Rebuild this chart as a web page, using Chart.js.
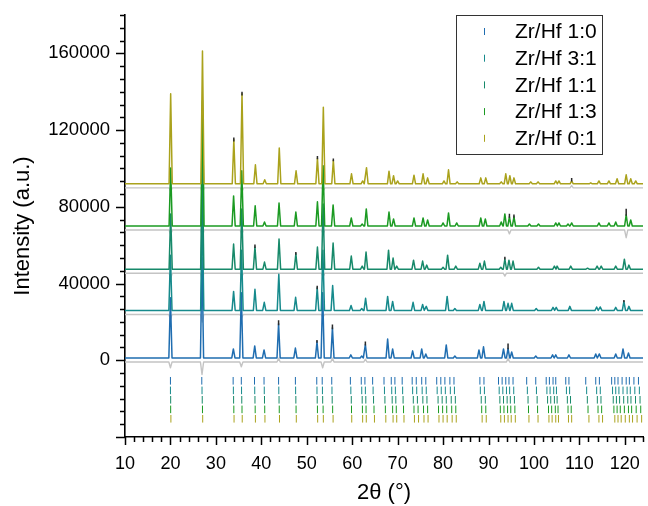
<!DOCTYPE html>
<html>
<head>
<meta charset="utf-8">
<script src="https://cdn.jsdelivr.net/npm/chart.js@4.4.1/dist/chart.umd.min.js"></script>
<style>
  body { margin: 0; background: #fff; }
  canvas { display: block; }
</style>
</head>
<body>
<canvas id="xrd" width="648" height="506"></canvas>
<script>
// series names and stacking offsets (a.u.)
const labels = ['Zr/Hf 1:0', 'Zr/Hf 3:1', 'Zr/Hf 1:1', 'Zr/Hf 1:3', 'Zr/Hf 0:1'];
const colors = ['#1f6db0', '#168a8c', '#17896a', '#1b9a22', '#aaa21c'];
const offsets = [1200, 26000, 47500, 70000, 92000];

// calculated peaks: [2theta, height above own baseline]
const peaks10 = [[20.0, 31400], [26.95, 52300], [33.85, 4700], [35.6, 34000], [38.55, 6300], [40.6, 4200], [43.8, 18000], [47.5, 5200], [52.25, 8400], [53.5, 34000], [55.65, 15800], [59.7, 1600], [62.1, 1000], [62.9, 7000], [67.8, 9900], [68.9, 4700], [73.3, 3700], [75.3, 4700], [76.2, 2100], [80.7, 6800], [82.6, 1000], [87.9, 4200], [88.9, 5800], [93.3, 4700], [94.3, 5000], [95.1, 3100], [100.4, 1000], [104.1, 1600], [104.8, 1600], [107.7, 1600], [113.6, 2100], [114.4, 2100], [118.0, 2100], [119.6, 4700], [120.8, 2600]];
const peaks31 = [[20.0, 28800], [27.0, 54900], [33.9, 9900], [35.65, 31400], [38.6, 11000], [40.65, 4200], [43.85, 18800], [47.55, 6800], [52.3, 11800], [53.55, 31400], [55.7, 13000], [59.75, 2600], [62.1, 1000], [62.95, 6300], [67.8, 7300], [68.9, 4700], [73.4, 4200], [75.5, 3100], [76.3, 2100], [80.9, 7300], [82.6, 1000], [88.1, 3100], [89.0, 4700], [93.4, 4700], [94.3, 3700], [95.1, 3700], [100.5, 1000], [104.2, 1600], [104.9, 1600], [107.9, 2100], [113.8, 1800], [114.6, 1800], [118.0, 1600], [119.8, 4700], [120.9, 2100]];
const peaks11 = [[20.05, 28800], [27.0, 57500], [33.9, 13100], [35.7, 31400], [38.6, 11600], [40.7, 3700], [43.9, 15700], [47.6, 8000], [52.35, 11500], [53.6, 34000], [55.8, 13600], [59.8, 6800], [62.2, 1600], [63.05, 8900], [68.0, 9900], [69.0, 5800], [69.8, 1600], [73.5, 4700], [75.5, 4200], [76.4, 2100], [80.0, 1000], [81.0, 7300], [82.8, 1600], [88.1, 3100], [89.1, 4200], [92.7, 1000], [93.6, 5300], [94.5, 4700], [95.4, 4200], [101.0, 1000], [104.5, 1600], [105.1, 1600], [108.1, 1600], [111.8, 500], [113.9, 1600], [114.8, 1600], [118.0, 1600], [119.9, 5200], [120.9, 2100]];
const peaks13 = [[20.05, 30300], [27.05, 65400], [33.9, 15700], [35.7, 28800], [38.65, 10500], [40.7, 2100], [43.9, 12000], [47.6, 7300], [52.35, 12600], [53.6, 31400], [55.8, 11000], [59.8, 4200], [62.2, 1000], [63.1, 8900], [68.1, 7300], [69.1, 3700], [73.6, 4200], [75.6, 4200], [76.6, 3100], [80.0, 1600], [81.2, 6800], [83.0, 1600], [88.3, 4200], [89.3, 3700], [92.8, 2100], [93.6, 6300], [94.6, 4800], [95.6, 4800], [99.0, 1000], [101.0, 1000], [104.8, 1600], [105.5, 1600], [107.5, 1000], [108.3, 1600], [114.3, 1600], [116.5, 1600], [118.0, 2100], [120.3, 5800], [121.3, 3100]];
const peaks01 = [[20.05, 46900], [27.05, 69200], [33.95, 22900], [35.75, 47000], [38.7, 9900], [40.75, 2100], [43.95, 18700], [47.65, 6800], [52.35, 13300], [53.65, 39900], [55.85, 12200], [59.85, 5200], [62.3, 1500], [63.15, 8400], [68.1, 6600], [69.1, 4200], [70.0, 1500], [73.6, 4500], [75.6, 5200], [76.6, 3100], [80.2, 1500], [81.2, 7300], [83.1, 1000], [88.3, 3100], [89.4, 3100], [92.8, 1000], [93.8, 5200], [94.7, 4200], [95.6, 3100], [99.3, 1000], [100.9, 1000], [104.8, 1500], [105.5, 1500], [108.3, 1500], [112.5, 500], [114.3, 1500], [116.5, 1500], [118.3, 2600], [120.3, 4700], [121.3, 2600], [122.4, 1500]];
const allPeaks = [peaks10, peaks31, peaks11, peaks13, peaks01];

// observed tops sticking out above the calculated line: [2theta, from, to]
const obs10 = [[43.8, 17000, 19600], [52.25, 8000, 9400], [55.65, 15000, 17500], [62.9, 6500, 8600], [94.3, 4500, 7600]];
const obs31 = [[52.3, 11000, 12800], [119.8, 4200, 5400]];
const obs11 = [[38.6, 11000, 12800], [47.6, 7500, 9000], [93.6, 5000, 6500]];
const obs13 = [[94.6, 4300, 6400], [95.6, 4300, 6000], [120.3, 5300, 9000]];
const obs01 = [[33.95, 22000, 24200], [35.75, 46000, 48000], [52.35, 12800, 14500], [55.85, 11700, 13200], [108.3, 1200, 3000]];
const allObs = [obs10, obs31, obs11, obs13, obs01];

// difference curves: level below each pattern and spikes [2theta, value]
const diffGap = 2100;
const diff10 = [[20.0, -3000], [26.95, -6500], [35.6, -2500], [43.8, 2000], [53.5, -3000], [55.65, 2000], [62.9, 1500], [94.3, 2000]];
const diff31 = [[20.0, -2500], [27.0, -4000], [35.65, -2000], [53.55, -1500]];
const diff11 = [[20.05, -2500], [27.0, -4000], [35.7, -2000], [53.6, -2000], [93.6, -1500]];
const diff13 = [[20.05, -2500], [27.05, -3500], [35.7, -2500], [53.6, -2000], [94.6, -2000], [120.3, -4000]];
const diff01 = [[20.05, -2000], [27.05, -3000], [35.75, -2000], [53.65, -1500], [108.3, 1200]];
const allDiffs = [diff10, diff31, diff11, diff13, diff01];

// Bragg reflection positions, one row per phase
const bragg10 = [20.0, 26.9, 33.8, 35.6, 38.5, 40.6, 43.8, 47.5, 52.2, 53.4, 55.5, 59.6, 62.0, 62.8, 64.5, 67.0, 68.6, 69.4, 71.0, 73.2, 74.1, 75.3, 76.2, 78.6, 79.5, 80.4, 81.5, 82.4, 88.1, 89.0, 92.2, 93.0, 93.8, 94.5, 95.4, 98.4, 100.4, 102.7, 103.4, 104.2, 104.8, 107.0, 107.7, 111.4, 113.6, 114.4, 117.1, 117.8, 118.5, 119.4, 120.3, 121.0, 122.0, 123.0];
const bragg31 = [20.0, 26.95, 33.85, 35.65, 38.55, 40.65, 43.85, 47.55, 52.25, 53.45, 55.55, 59.7, 62.1, 62.9, 64.6, 67.1, 68.7, 69.5, 71.1, 73.3, 74.2, 75.4, 76.3, 78.7, 79.6, 80.5, 81.6, 82.5, 88.2, 89.1, 92.35, 93.15, 93.95, 94.65, 95.55, 98.55, 100.55, 102.85, 103.55, 104.35, 104.95, 107.15, 107.85, 111.6, 113.8, 114.6, 117.3, 118.0, 118.7, 119.6, 120.5, 121.2, 122.2, 123.2];
const bragg11 = [20.05, 27.0, 33.9, 35.7, 38.6, 40.7, 43.9, 47.6, 52.3, 53.5, 55.6, 59.8, 62.2, 63.0, 64.7, 67.2, 68.8, 69.6, 71.2, 73.45, 74.35, 75.55, 76.45, 78.9, 79.8, 80.7, 81.8, 82.7, 88.4, 89.3, 92.5, 93.3, 94.1, 94.8, 95.7, 98.7, 100.7, 103.0, 103.7, 104.5, 105.1, 107.35, 108.05, 111.75, 113.95, 114.75, 117.45, 118.15, 118.85, 119.75, 120.65, 121.35, 122.35, 123.35];
const bragg13 = [20.05, 27.05, 33.95, 35.75, 38.65, 40.75, 43.95, 47.65, 52.35, 53.6, 55.7, 59.85, 62.25, 63.05, 64.8, 67.3, 68.9, 69.7, 71.3, 73.6, 74.5, 75.7, 76.6, 79.0, 79.9, 80.8, 81.9, 82.8, 88.5, 89.4, 92.6, 93.4, 94.2, 94.9, 95.8, 98.8, 100.8, 103.2, 103.9, 104.7, 105.3, 107.5, 108.2, 111.9, 114.1, 114.9, 117.6, 118.3, 119.0, 119.9, 120.8, 121.5, 122.5, 123.5];
const bragg01 = [20.1, 27.1, 34.0, 35.8, 38.7, 40.8, 44.0, 47.7, 52.4, 53.65, 55.8, 59.9, 62.3, 63.1, 64.9, 67.4, 69.0, 69.8, 71.4, 73.7, 74.6, 75.8, 76.7, 79.1, 80.0, 80.9, 82.0, 82.9, 88.6, 89.5, 92.7, 93.5, 94.3, 95.0, 95.9, 98.9, 100.9, 103.3, 104.0, 104.8, 105.4, 107.6, 108.3, 112.1, 114.3, 115.1, 117.8, 118.5, 119.2, 120.1, 121.0, 121.7, 122.7, 123.7];
const allBragg = [bragg10, bragg31, bragg11, bragg13, bragg01];
const braggRows = [-10700, -15700, -20600, -25600, -30500];

const yTickLabels = [0, 40000, 80000, 120000, 160000];
const xTickLabels = [10, 20, 30, 40, 50, 60, 70, 80, 90, 100, 110, 120];

const halfWidth = 0.35;

function profile(base, list) {
  const pts = [{ x: 10, y: base }];
  list.forEach(([t, h]) => {
    pts.push({ x: t - halfWidth, y: base }, { x: t, y: base + h }, { x: t + halfWidth, y: base });
  });
  pts.push({ x: 124, y: base });
  return pts;
}

function tips(base, list) {
  const pts = [];
  list.forEach(([t, lo, hi]) => {
    pts.push({ x: t, y: base + lo }, { x: t, y: base + hi }, { x: t, y: null });
  });
  return pts;
}

const datasets = [];
labels.forEach((name, i) => {
  datasets.push({
    type: 'line',
    label: name,
    data: profile(offsets[i], allPeaks[i]),
    borderColor: colors[i],
    borderWidth: 1.5,
    borderJoinStyle: 'round',
    pointRadius: 0,
    tension: 0,
    order: 10 - i
  });
  datasets.push({
    type: 'line',
    label: name + ' obs',
    data: tips(offsets[i], allObs[i]),
    borderColor: '#2a2a2a',
    borderWidth: 1.5,
    pointRadius: 0,
    spanGaps: false,
    tension: 0,
    order: 9.9 - i
  });
  datasets.push({
    type: 'line',
    label: name + ' diff',
    data: profile(offsets[i] - diffGap, allDiffs[i]),
    borderColor: '#c4c4c4',
    borderWidth: 1.4,
    borderJoinStyle: 'round',
    pointRadius: 0,
    tension: 0,
    order: 20 - i
  });
  datasets.push({
    type: 'scatter',
    label: name + ' hkl',
    data: allBragg[i].map(t => ({ x: t, y: braggRows[i] })),
    showLine: false,
    pointStyle: 'line',
    rotation: 90,
    pointRadius: 3.8,
    borderWidth: 1,
    borderColor: colors[i],
    order: 30
  });
});

const FONT = '"Liberation Sans", Arial, sans-serif';

const axisTicks = {
  id: 'axisTicks',
  afterDraw(chart) {
    const { ctx, scales: { x, y }, chartArea: a } = chart;
    ctx.save();
    ctx.strokeStyle = '#000';
    ctx.lineWidth = 1.5;
    ctx.beginPath();
    for (let v = 10; v <= 124.001; v += 2) {
      const px = Math.round(x.getPixelForValue(v)) + 0.5;
      const len = (Math.round(v) % 10 === 0) ? 8 : 5;
      ctx.moveTo(px, a.bottom);
      ctx.lineTo(px, a.bottom + len);
    }
    for (let k = -6; k <= 27; k++) {
      const v = k * 40000 / 6;
      const py = Math.round(y.getPixelForValue(v)) + 0.5;
      const len = (k % 6 === 0) ? 9 : 5;
      ctx.moveTo(a.left, py);
      ctx.lineTo(a.left - len, py);
    }
    ctx.stroke();
    ctx.restore();
  }
};

const boxLegend = {
  id: 'boxLegend',
  afterDraw(chart) {
    const { ctx } = chart;
    ctx.save();
    ctx.strokeStyle = '#333';
    ctx.lineWidth = 1;
    ctx.strokeRect(456.5, 15.5, 146, 139);
    ctx.font = '21px ' + FONT;
    ctx.textBaseline = 'middle';
    ctx.fillStyle = '#000';
    labels.forEach((name, i) => {
      const cy = 31.5 + i * 26.7;
      ctx.strokeStyle = colors[i];
      ctx.lineWidth = 1;
      ctx.beginPath();
      ctx.moveTo(484.5, cy - 3.5);
      ctx.lineTo(484.5, cy + 3.5);
      ctx.stroke();
      ctx.fillText(name, 515, cy + 1);
    });
    ctx.restore();
  }
};

const noPad = s => {
  s.paddingTop = 0;
  s.paddingBottom = 0;
  s.paddingLeft = 0;
  s.paddingRight = 0;
};

new Chart(document.getElementById('xrd'), {
  type: 'line',
  data: { datasets },
  options: {
    responsive: false,
    animation: false,
    layout: { padding: { top: 15, right: 4, left: 0, bottom: 0 } },
    plugins: { legend: { display: false }, tooltip: { enabled: false } },
    scales: {
      x: {
        type: 'linear',
        min: 10,
        max: 124,
        grid: { display: false },
        border: { display: true, color: '#000', width: 1.6 },
        afterFit: s => { s.height = 69; noPad(s); },
        afterBuildTicks: s => { s.ticks = xTickLabels.map(v => ({ value: v })); },
        ticks: {
          padding: 8,
          color: '#000',
          font: { family: FONT, size: 18 },
          maxRotation: 0,
          autoSkip: false,
          callback: v => String(v)
        },
        title: {
          display: true,
          text: '2θ (°)',
          color: '#000',
          font: { family: FONT, size: 22 },
          padding: { top: 0, bottom: 0 }
        }
      },
      y: {
        min: -40000,
        max: 180000,
        grid: { display: false },
        border: { display: true, color: '#000', width: 1.6 },
        afterFit: s => { s.width = 125; noPad(s); },
        afterBuildTicks: s => { s.ticks = yTickLabels.map(v => ({ value: v })); },
        ticks: {
          padding: 7,
          color: '#000',
          font: { family: FONT, size: 18.5 },
          autoSkip: false,
          callback: v => String(v)
        },
        title: {
          display: true,
          text: 'Intensity (a.u.)',
          color: '#000',
          font: { family: FONT, size: 22 },
          padding: { top: 10, bottom: 0 }
        }
      }
    }
  },
  plugins: [axisTicks, boxLegend]
});
</script>
</body>
</html>
